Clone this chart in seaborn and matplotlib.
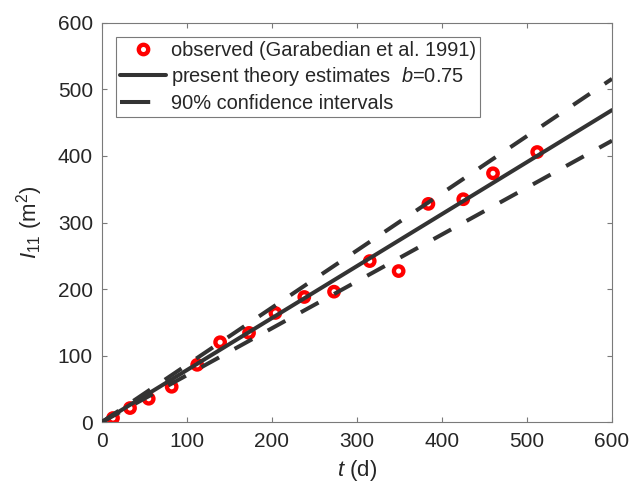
import matplotlib
matplotlib.use("Agg")
import matplotlib.pyplot as plt
from matplotlib.lines import Line2D
import pandas as pd
import seaborn as sns

# Observed second spatial moment (Garabedian et al. 1991)
t_obs = [13, 33, 55, 82, 112, 139, 173, 204, 238, 273, 315, 349, 384, 425, 460, 512]
I_obs = [6, 21, 35, 53, 86, 120, 134, 164, 188, 196, 242, 227, 328, 335, 374, 406]

# Theory estimate (b = 0.75) and its 90% confidence band
t_fit = [0, 600]
I_est = [0, 469]
I_upper = [0, 516]
I_lower = [0, 423]

xticks = [0, 100, 200, 300, 400, 500, 600]
yticks = [0, 100, 200, 300, 400, 500, 600]

sns.set_theme(style="white")
plt.rcParams["font.family"] = ["Liberation Sans", "DejaVu Sans"]
plt.rcParams["mathtext.fontset"] = "custom"
plt.rcParams["mathtext.rm"] = "Liberation Sans"
plt.rcParams["mathtext.it"] = "Liberation Sans:italic"

text_col = "#262626"
line_col = "#333333"

obs = pd.DataFrame({"t": t_obs, "I": I_obs})
fit = pd.DataFrame({"t": t_fit, "est": I_est, "up": I_upper, "lo": I_lower})

fig = plt.figure(figsize=(6.31, 4.88), dpi=100)
ax = fig.add_axes([0.1616, 0.1352, 0.8083, 0.8177])

sns.scatterplot(data=obs, x="t", y="I", ax=ax, marker="o", s=6.8 ** 2,
                facecolor="none", edgecolor="red", linewidth=3.1, zorder=2,
                legend=False)

lw = 2.9
dash = (0, (5.0, 4.4))
sns.lineplot(data=fit, x="t", y="est", ax=ax, color=line_col, linewidth=lw,
             zorder=3, legend=False)
sns.lineplot(data=fit, x="t", y="up", ax=ax, color=line_col, linewidth=lw,
             linestyle=dash, zorder=3, legend=False)
sns.lineplot(data=fit, x="t", y="lo", ax=ax, color=line_col, linewidth=lw,
             linestyle=dash, zorder=3, legend=False)

ax.set_xlim(0, 600)
ax.set_ylim(0, 600)
ax.set_xticks(xticks)
ax.set_yticks(yticks)
ax.set_xticklabels([str(v) for v in xticks])
ax.set_yticklabels([str(v) for v in yticks])

for s in ax.spines.values():
    s.set_visible(True)
    s.set_color("#7a7a7a")
    s.set_linewidth(0.8)

ax.tick_params(direction="in", length=3.6, width=0.8, color="#7a7a7a",
               labelsize=15, labelcolor=text_col, top=True, right=True,
               bottom=True, left=True)
ax.tick_params(axis="y", pad=6.5)
ax.tick_params(axis="x", pad=7)

ax.set_xlabel(r"$\mathit{t}$ (d)", fontsize=16, color=text_col, labelpad=5)
ax.set_ylabel(r"$\mathit{I}_{11}$ (m$^2$)", fontsize=16, color=text_col,
              labelpad=9)

handles = [
    Line2D([], [], linestyle="none", marker="o", markersize=6.8,
           markerfacecolor="none", markeredgecolor="red", markeredgewidth=3.1),
    Line2D([], [], color=line_col, linewidth=lw),
    Line2D([], [], color=line_col, linewidth=lw, linestyle=(0, (7.5, 10))),
]
labels = [
    "observed (Garabedian et al. 1991)",
    r"present theory estimates  $\mathit{b}$=0.75",
    "90% confidence intervals",
]
leg = ax.legend(handles, labels, loc="upper left", fontsize=14.4,
                frameon=True, fancybox=False, edgecolor="#7a7a7a",
                framealpha=1, handlelength=2.3, handletextpad=0.25,
                borderpad=0.2, labelspacing=0.27, borderaxespad=0.7)
leg.get_frame().set_linewidth(0.8)
for txt in leg.get_texts():
    txt.set_color(text_col)

fig.savefig("out.png", dpi=100)
